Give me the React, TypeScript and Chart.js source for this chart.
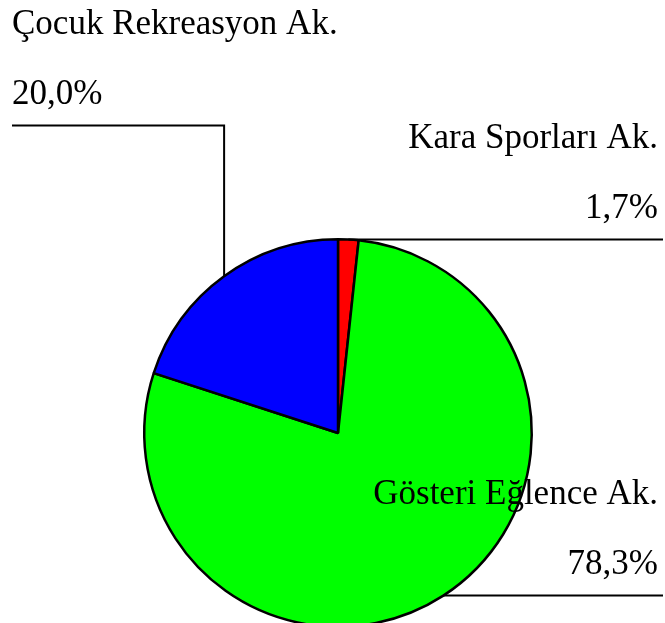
import React, { useEffect, useRef } from "react";
import { Chart, registerables } from "chart.js";

Chart.register(...registerables);

const categories = ["Kara Sporları Ak.", "Gösteri Eğlence Ak.", "Çocuk Rekreasyon Ak."];
const values = [1.7, 78.3, 20.0];
const valueLabels = ["1,7%", "78,3%", "20,0%"];
const colors = ["#ff0000", "#00ff00", "#0000ff"];

const FONT = "35px 'Liberation Serif', 'Times New Roman', serif";

// label layout per slice: side of text and optional fixed line level
const labelLayout = [
  { side: "right", lineY: null as number | null },
  { side: "right", lineY: null as number | null },
  { side: "left", lineY: 125.5 as number | null },
];

const leaderPlugin = {
  id: "leaderLabels",
  afterDraw(chart: any) {
    const ctx = chart.ctx;
    const meta = chart.getDatasetMeta(0);
    const W = 665;
    ctx.save();
    ctx.strokeStyle = "#000";
    ctx.lineWidth = 2;
    ctx.fillStyle = "#000";
    ctx.font = FONT;
    meta.data.forEach((arc: any, i: number) => {
      const p = arc.getProps(["x", "y", "startAngle", "endAngle", "outerRadius"], true);
      const mid = (p.startAngle + p.endAngle) / 2;
      const ax = p.x + Math.cos(mid) * p.outerRadius;
      const ay = p.y + Math.sin(mid) * p.outerRadius;
      const lay = labelLayout[i];
      const ly = lay.lineY == null ? ay : lay.lineY;
      ctx.beginPath();
      ctx.moveTo(ax, ay);
      if (lay.lineY != null) ctx.lineTo(ax, ly);
      if (lay.side === "right") {
        ctx.lineTo(W - 2, ly);
      } else {
        ctx.lineTo(12, ly);
      }
      ctx.stroke();
      ctx.textBaseline = "alphabetic";
      if (lay.side === "right") {
        ctx.textAlign = "right";
        ctx.fillText(valueLabels[i], W - 7, ly - 22);
        ctx.fillText(categories[i], W - 7, ly - 92);
      } else {
        ctx.textAlign = "left";
        ctx.fillText(valueLabels[i], 12, ly - 22);
        ctx.fillText(categories[i], 12, ly - 92);
      }
    });
    ctx.restore();
  },
};

export default function App() {
  const ref = useRef<HTMLCanvasElement | null>(null);
  useEffect(() => {
    if (!ref.current) return;
    const chart = new Chart(ref.current, {
      type: "pie",
      data: {
        labels: categories,
        datasets: [
          {
            data: values,
            backgroundColor: colors,
            borderColor: "#000",
            borderWidth: 2.5,
            borderAlign: "center",
          },
        ],
      },
      options: {
        responsive: false,
        animation: false,
        layout: { padding: { left: 143, right: 132, top: 238, bottom: 72 } },
        plugins: { legend: { display: false }, tooltip: { enabled: false } },
      },
      plugins: [leaderPlugin],
    });
    return () => chart.destroy();
  }, []);
  return (
    <div style={{ position: "fixed", left: 0, top: 0, width: 665, height: 623, overflow: "hidden", background: "#fff" }}>
      <canvas ref={ref} width={665} height={700} style={{ display: "block" }} />
    </div>
  );
}
